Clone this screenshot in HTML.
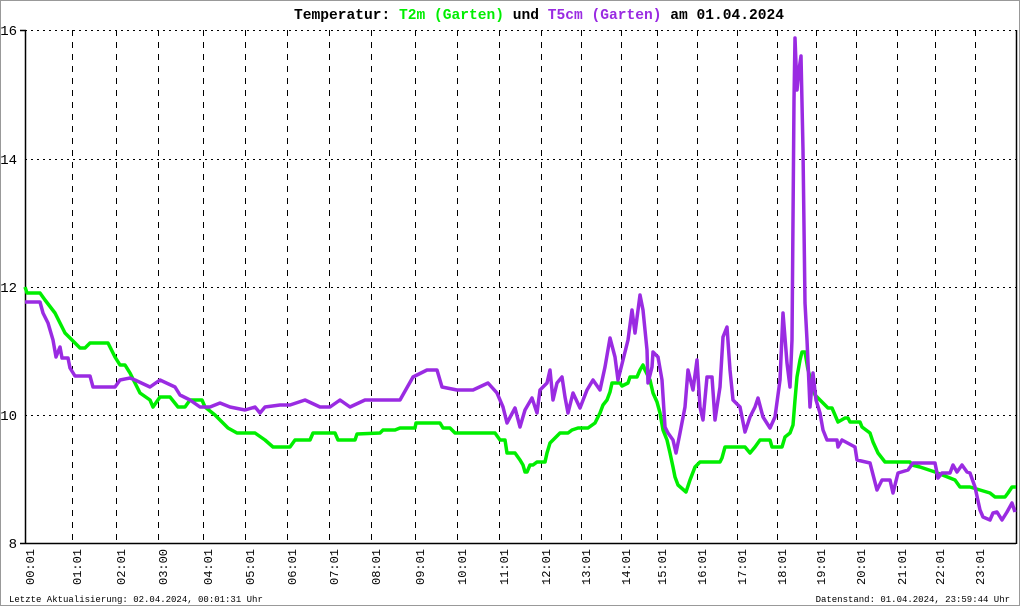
<!DOCTYPE html>
<html><head><meta charset="utf-8"><style>
html,body{margin:0;padding:0;background:#fff}
svg{display:block}
text{font-family:"Liberation Mono",monospace}
</style></head><body>
<svg width="1020" height="606" viewBox="0 0 1020 606" xmlns="http://www.w3.org/2000/svg">
<rect x="0.5" y="0.5" width="1019" height="605" fill="#fff" stroke="#999"/>
<text x="294" y="19" font-size="15" font-weight="bold" textLength="490" lengthAdjust="spacingAndGlyphs"><tspan fill="#000">Temperatur: </tspan><tspan fill="#00ee00">T2m (Garten)</tspan><tspan fill="#000"> und </tspan><tspan fill="#9a2be2">T5cm (Garten)</tspan><tspan fill="#000"> am 01.04.2024</tspan></text>
<g stroke="#000" stroke-width="1" stroke-dasharray="2,4" fill="none">
<line x1="25" y1="30.5" x2="1016" y2="30.5"/>
<line x1="25" y1="159.5" x2="1016" y2="159.5"/>
<line x1="25" y1="287.5" x2="1016" y2="287.5"/>
<line x1="25" y1="415.5" x2="1016" y2="415.5"/>
</g>
<g stroke="#000" stroke-width="1" stroke-dasharray="6,6" fill="none">
<line x1="72.5" y1="30" x2="72.5" y2="543"/><line x1="116.5" y1="30" x2="116.5" y2="543"/><line x1="158.5" y1="30" x2="158.5" y2="543"/><line x1="203.5" y1="30" x2="203.5" y2="543"/><line x1="245.5" y1="30" x2="245.5" y2="543"/><line x1="287.5" y1="30" x2="287.5" y2="543"/><line x1="329.5" y1="30" x2="329.5" y2="543"/><line x1="371.5" y1="30" x2="371.5" y2="543"/><line x1="415.5" y1="30" x2="415.5" y2="543"/><line x1="457.5" y1="30" x2="457.5" y2="543"/><line x1="499.5" y1="30" x2="499.5" y2="543"/><line x1="541.5" y1="30" x2="541.5" y2="543"/><line x1="581.5" y1="30" x2="581.5" y2="543"/><line x1="621.5" y1="30" x2="621.5" y2="543"/><line x1="657.5" y1="30" x2="657.5" y2="543"/><line x1="697.5" y1="30" x2="697.5" y2="543"/><line x1="737.5" y1="30" x2="737.5" y2="543"/><line x1="777.5" y1="30" x2="777.5" y2="543"/><line x1="816.5" y1="30" x2="816.5" y2="543"/><line x1="856.5" y1="30" x2="856.5" y2="543"/><line x1="897.5" y1="30" x2="897.5" y2="543"/><line x1="935.5" y1="30" x2="935.5" y2="543"/><line x1="975.5" y1="30" x2="975.5" y2="543"/>
</g>
<g stroke="#000" stroke-width="1.5" fill="none">
<line x1="25.5" y1="30" x2="25.5" y2="543"/>
<line x1="20" y1="543.5" x2="1016" y2="543.5"/>
<line x1="1016.5" y1="30" x2="1016.5" y2="544"/>
<line x1="20" y1="30.5" x2="26" y2="30.5"/>
</g>
<g font-size="14" fill="#000" text-anchor="end">
<text x="17" y="35">16</text><text x="17" y="164">14</text><text x="17" y="292">12</text><text x="17" y="420">10</text><text x="17" y="548">8</text>
</g>
<polyline fill="none" stroke="#00ee00" stroke-width="3.5" stroke-linejoin="round" points="25,287 27,293 40,293 45,300 55,313 60,323 65,333 75,343 80,348 85,348 90,343 108,343 115,357 120,365 125,365 130,373 140,393 150,400 153,407 160,397 170,397 178,407 185,407 190,400 202,400 205,407 215,415 228,428 237,433 255,433 265,440 273,447 290,447 295,440 310,440 313,433 335,433 338,440 355,440 357,434 380,433 383,430 395,430 400,428 415,428 416,423 440,423 443,428 450,428 455,433 495,433 500,440 505,440 507,453 515,453 520,460 523,465 525,472 527,472 530,465 533,465 537,462 545,462 547,453 550,443 555,438 560,433 568,433 572,430 578,428 588,428 595,423 600,413 603,405 607,400 610,392 612,383 620,383 622,386 628,383 630,377 637,377 640,370 643,365 645,370 650,380 653,393 657,402 660,413 663,430 667,440 670,453 673,467 675,477 678,485 686,492 690,480 695,467 700,462 712,462 720,462 722,458 725,447 745,447 750,453 755,447 760,440 770,440 772,447 782,447 785,437 790,433 793,425 795,400 797,377 800,360 802,352 805,352 808,370 811,380 815,395 820,400 828,408 832,408 835,415 838,422 845,418 848,418 850,422 860,422 862,427 870,433 873,442 878,453 885,462 910,462 912,465 920,467 935,472 955,480 960,487 970,487 990,493 995,497 1005,497 1008,493 1012,487 1016,487"/>
<polyline fill="none" stroke="#9a2be2" stroke-width="3.5" stroke-linejoin="round" points="25,302 40,302 43,313 48,323 53,340 56,357 60,347 62,358 68,358 70,368 75,376 90,376 93,387 115,387 120,380 130,378 135,380 150,387 160,380 175,387 180,395 190,400 200,407 210,407 220,403 230,407 245,410 255,407 260,413 265,407 280,405 290,405 305,400 320,407 330,407 340,400 350,407 365,400 400,400 413,377 427,370 437,370 442,387 457,390 473,390 488,383 497,393 503,407 507,423 515,408 520,427 525,410 532,398 537,413 540,390 547,383 550,370 553,400 557,383 562,377 565,397 568,413 573,393 580,408 587,390 593,380 600,390 605,367 610,338 615,357 618,380 623,360 628,340 632,310 635,333 640,295 643,310 647,350 648,383 652,367 653,352 658,357 662,380 665,427 668,433 673,440 676,453 680,433 685,407 688,370 693,390 697,360 700,407 703,420 707,377 712,377 715,420 720,387 723,337 727,327 730,370 733,400 740,407 745,432 750,417 755,407 758,398 763,417 770,428 775,417 780,380 783,313 787,363 790,387 792,340 794,100 795,38 797,90 799,70 801,56 803,150 805,303 807,340 810,407 813,373 816,400 820,413 823,430 827,440 837,440 838,447 842,440 855,447 857,460 870,463 877,490 882,480 890,480 893,493 898,473 908,470 913,463 935,463 938,478 942,473 950,473 953,465 957,472 962,465 967,472 970,473 975,487 980,510 983,517 990,520 993,513 997,512 1002,520 1007,512 1012,503 1015,512"/>
<g font-size="12" fill="#000">
<text transform="translate(34,585) rotate(-90)">00:01</text><text transform="translate(81,585) rotate(-90)">01:01</text><text transform="translate(125,585) rotate(-90)">02:01</text><text transform="translate(167,585) rotate(-90)">03:00</text><text transform="translate(212,585) rotate(-90)">04:01</text><text transform="translate(254,585) rotate(-90)">05:01</text><text transform="translate(296,585) rotate(-90)">06:01</text><text transform="translate(338,585) rotate(-90)">07:01</text><text transform="translate(380,585) rotate(-90)">08:01</text><text transform="translate(424,585) rotate(-90)">09:01</text><text transform="translate(466,585) rotate(-90)">10:01</text><text transform="translate(508,585) rotate(-90)">11:01</text><text transform="translate(550,585) rotate(-90)">12:01</text><text transform="translate(590,585) rotate(-90)">13:01</text><text transform="translate(630,585) rotate(-90)">14:01</text><text transform="translate(666,585) rotate(-90)">15:01</text><text transform="translate(706,585) rotate(-90)">16:01</text><text transform="translate(746,585) rotate(-90)">17:01</text><text transform="translate(786,585) rotate(-90)">18:01</text><text transform="translate(825,585) rotate(-90)">19:01</text><text transform="translate(865,585) rotate(-90)">20:01</text><text transform="translate(906,585) rotate(-90)">21:01</text><text transform="translate(944,585) rotate(-90)">22:01</text><text transform="translate(984,585) rotate(-90)">23:01</text>
</g>
<text x="9" y="602" font-size="9" fill="#000">Letzte Aktualisierung: 02.04.2024, 00:01:31 Uhr</text>
<text x="1010" y="602" font-size="9" fill="#000" text-anchor="end">Datenstand: 01.04.2024, 23:59:44 Uhr</text>
</svg>
</body></html>
